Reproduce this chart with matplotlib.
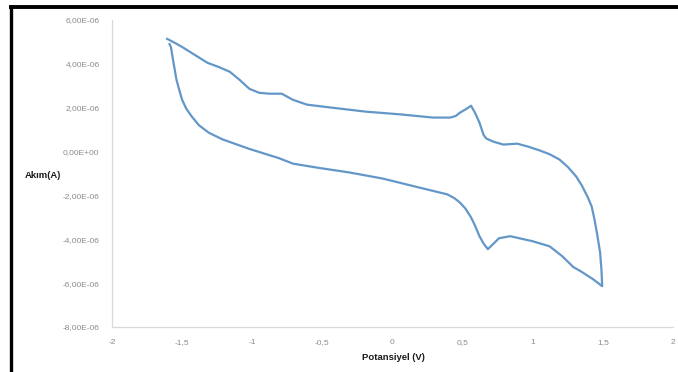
import matplotlib
matplotlib.use("Agg")
import matplotlib.pyplot as plt
from matplotlib.lines import Line2D

# Potential (V) and current (µA)
potential_upper = [-1.607, -1.55, -1.50, -1.42, -1.32, -1.24, -1.16, -1.09, -1.02, -0.95,
                   -0.88, -0.79, -0.71, -0.61, -0.43, -0.19, 0.05, 0.29, 0.41, 0.45,
                   0.48, 0.52, 0.56, 0.59, 0.62, 0.65, 0.67, 0.72, 0.79, 0.89,
                   0.97, 1.05, 1.12, 1.19, 1.25, 1.31, 1.35, 1.39, 1.42, 1.44,
                   1.46, 1.48, 1.49, 1.495]
current_upper = [5.14, 4.95, 4.77, 4.45, 4.05, 3.86, 3.64, 3.27, 2.86, 2.68,
                 2.64, 2.64, 2.36, 2.14, 2.00, 1.82, 1.70, 1.55, 1.55, 1.62,
                 1.77, 1.92, 2.09, 1.75, 1.32, 0.75, 0.59, 0.45, 0.32, 0.36,
                 0.22, 0.05, -0.12, -0.36, -0.70, -1.14, -1.55, -2.05, -2.50, -3.09,
                 -3.80, -4.59, -5.40, -6.14]
potential_lower = [1.43, 1.34, 1.29, 1.21, 1.12, 1.00, 0.84, 0.76, 0.72, 0.68,
                   0.65, 0.62, 0.59, 0.56, 0.52, 0.48, 0.44, 0.39, 0.19, -0.07,
                   -0.31, -0.54, -0.71, -0.81, -1.02, -1.21, -1.31, -1.38, -1.43, -1.47,
                   -1.50, -1.52, -1.54, -1.56, -1.58, -1.59]
current_lower = [-5.82, -5.45, -5.27, -4.77, -4.32, -4.09, -3.86, -3.95, -4.20, -4.45,
                 -4.20, -3.86, -3.40, -3.00, -2.60, -2.32, -2.12, -1.95, -1.64, -1.23,
                 -0.95, -0.73, -0.55, -0.30, 0.12, 0.55, 0.86, 1.20, 1.59, 1.95,
                 2.36, 2.80, 3.27, 4.00, 4.77, 4.90]
micro = 1e-6

x_ticks = [-2, -1.5, -1, -0.5, 0, 0.5, 1, 1.5, 2]
x_tick_labels = ["-2", "-1,5", "-1", "-0,5", "0", "0,5", "1", "1,5", "2"]
y_ticks = [6e-6, 4e-6, 2e-6, 0, -2e-6, -4e-6, -6e-6, -8e-6]
y_tick_labels = ["6,00E-06", "4,00E-06", "2,00E-06", "0,00E+00", "-2,00E-06",
                 "-4,00E-06", "-6,00E-06", "-8,00E-06"]

plt.rcParams['font.family'] = ['Liberation Sans', 'DejaVu Sans']

W, H = 678, 372
fig = plt.figure(figsize=(W / 100, H / 100), dpi=100)
fig.patch.set_facecolor('white')
ax = fig.add_axes([112 / W, 1 - 327 / H, (673 - 112) / W, (327 - 20) / H])

xs = potential_upper + potential_lower
ys = [v * micro for v in current_upper + current_lower]
ax.plot(xs, ys, color='#6397C8', lw=1.6, solid_joinstyle='round')

ax.set_xlim(-2, 2)
ax.set_ylim(-8e-6, 6e-6)
ax.set_xticks(x_ticks)
ax.set_xticklabels(x_tick_labels)
ax.set_yticks(y_ticks)
ax.set_yticklabels(y_tick_labels)
ax.tick_params(length=0, labelsize=6, colors='#8c8c8c')
ax.tick_params(axis='y', pad=9)
ax.tick_params(axis='x', pad=9)
for s in ['top', 'right']:
    ax.spines[s].set_visible(False)
for s in ['left', 'bottom']:
    ax.spines[s].set_color('#d9d9d9')
    ax.spines[s].set_linewidth(0.9)

fig.text(43 / W, 1 - 175 / H, "Akım(A)", fontsize=6.8, fontweight='bold',
         ha='center', va='center', color='#1a1a1a')
fig.text(393 / W, 1 - 357 / H, "Potansiyel (V)", fontsize=6.8, fontweight='bold',
         ha='center', va='center', color='#1a1a1a')

# black frame on top and left (screenshot border)
fig.add_artist(Line2D([9 / W, 1], [1 - 7 / H, 1 - 7 / H], color='black', lw=2.8,
                      transform=fig.transFigure, solid_capstyle='butt'))
fig.add_artist(Line2D([10.5 / W, 10.5 / W], [0, 1 - 5 / H], color='black', lw=2.4,
                      transform=fig.transFigure, solid_capstyle='butt'))

fig.savefig("out.png", dpi=100, facecolor='white')
